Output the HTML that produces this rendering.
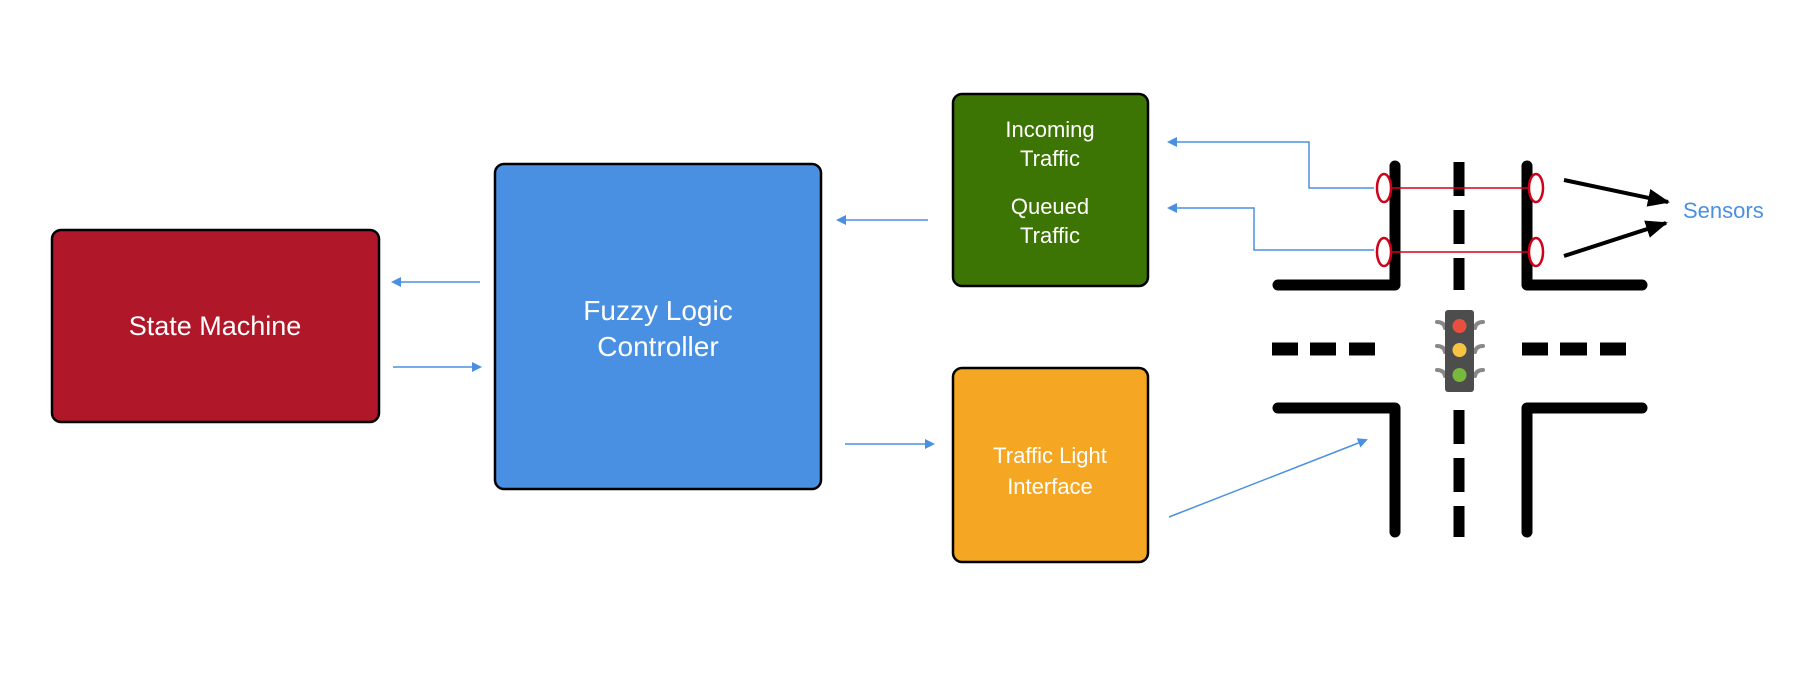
<!DOCTYPE html>
<html><head><meta charset="utf-8"><style>
html,body{margin:0;padding:0;background:#fff;}
body{width:1800px;height:672px;overflow:hidden;position:relative;font-family:"Liberation Sans",Arial,sans-serif;}
</style></head><body>
<svg width="1800" height="672" viewBox="0 0 1800 672" xmlns="http://www.w3.org/2000/svg">
<defs>
<marker id="b" markerWidth="10" markerHeight="10" refX="8" refY="5" orient="auto" markerUnits="userSpaceOnUse"><path d="M0,0 L10,5 L0,10 z" fill="#4a90e2"/></marker>
<marker id="k" markerWidth="22" markerHeight="18" refX="20" refY="9" orient="auto" markerUnits="userSpaceOnUse"><path d="M0,0 L22,9 L0,18 z" fill="#000"/></marker>
</defs>
<g stroke="#000" stroke-width="2.5">
<rect x="52" y="230" width="327" height="192" rx="9" fill="#b0182a"/>
<rect x="495" y="164" width="326" height="325" rx="9" fill="#4a90e2"/>
<rect x="953" y="94" width="195" height="192" rx="9" fill="#3d7504"/>
<rect x="953" y="368" width="195" height="194" rx="9" fill="#f5a623"/>
</g>
<g fill="#fff" text-anchor="middle">
<text x="215" y="335" font-size="27">State Machine</text>
<text x="658" y="320" font-size="28">Fuzzy Logic</text>
<text x="658" y="356" font-size="28">Controller</text>
<text x="1050" y="137" font-size="22">Incoming</text>
<text x="1050" y="166" font-size="22">Traffic</text>
<text x="1050" y="214" font-size="22">Queued</text>
<text x="1050" y="243" font-size="22">Traffic</text>
<text x="1050" y="463" font-size="22">Traffic Light</text>
<text x="1050" y="494" font-size="22">Interface</text>
</g>
<g stroke="#4a90e2" stroke-width="1.5" fill="none" marker-end="url(#b)">
<line x1="480" y1="282" x2="393" y2="282"/>
<line x1="393" y1="367" x2="480" y2="367"/>
<line x1="928" y1="220" x2="838" y2="220"/>
<line x1="845" y1="444" x2="933" y2="444"/>
<polyline points="1374,188 1309,188 1309,142 1169,142"/>
<polyline points="1374,250 1254,250 1254,208 1169,208"/>
<line x1="1169" y1="517" x2="1366" y2="440"/>
</g>
<g stroke="#000" stroke-width="11" fill="none" stroke-linecap="round" stroke-linejoin="round">
<polyline points="1395,166 1395,285 1278,285"/>
<polyline points="1527,166 1527,285 1642,285"/>
<polyline points="1278,408 1395,408 1395,532"/>
<polyline points="1642,408 1527,408 1527,532"/>
</g>
<g stroke="#000" stroke-width="11" stroke-dasharray="34,14">
<line x1="1459" y1="162" x2="1459" y2="290"/>
<line x1="1459" y1="410" x2="1459" y2="537"/>
</g>
<g stroke="#000" stroke-width="13">
<line x1="1272" y1="349" x2="1298" y2="349"/><line x1="1310" y1="349" x2="1336" y2="349"/><line x1="1349" y1="349" x2="1375" y2="349"/>
<line x1="1522" y1="349" x2="1548" y2="349"/><line x1="1560" y1="349" x2="1587" y2="349"/><line x1="1600" y1="349" x2="1626" y2="349"/>
</g>
<g stroke="#888" stroke-width="4" fill="none" stroke-linecap="round">
<path d="M1437,322 q7,0 8,6 M1437,346 q7,0 8,6 M1437,370 q7,0 8,6 M1483,322 q-7,0 -8,6 M1483,346 q-7,0 -8,6 M1483,370 q-7,0 -8,6"/>
</g>
<rect x="1445" y="310" width="29" height="82" rx="3" fill="#4d4d4d"/>
<circle cx="1459.5" cy="326" r="7" fill="#e94f3f"/>
<circle cx="1459.5" cy="350" r="7" fill="#f8c343"/>
<circle cx="1459.5" cy="375" r="7" fill="#78b83a"/>
<g stroke="#d0021b" stroke-width="1.5" fill="none">
<line x1="1384" y1="188" x2="1536" y2="188"/>
<line x1="1384" y1="252" x2="1536" y2="252"/>
<g fill="#fff" stroke-width="2.5">
<ellipse cx="1384" cy="188" rx="7" ry="14"/>
<ellipse cx="1536" cy="188" rx="7" ry="14"/>
<ellipse cx="1384" cy="252" rx="7" ry="14"/>
<ellipse cx="1536" cy="252" rx="7" ry="14"/>
</g></g>
<g stroke="#000" stroke-width="4" marker-end="url(#k)">
<line x1="1564" y1="180" x2="1668" y2="202"/>
<line x1="1564" y1="256" x2="1666" y2="223"/>
</g>
<text x="1683" y="218" font-size="22" fill="#4a90e2">Sensors</text>
</svg>
</body></html>
